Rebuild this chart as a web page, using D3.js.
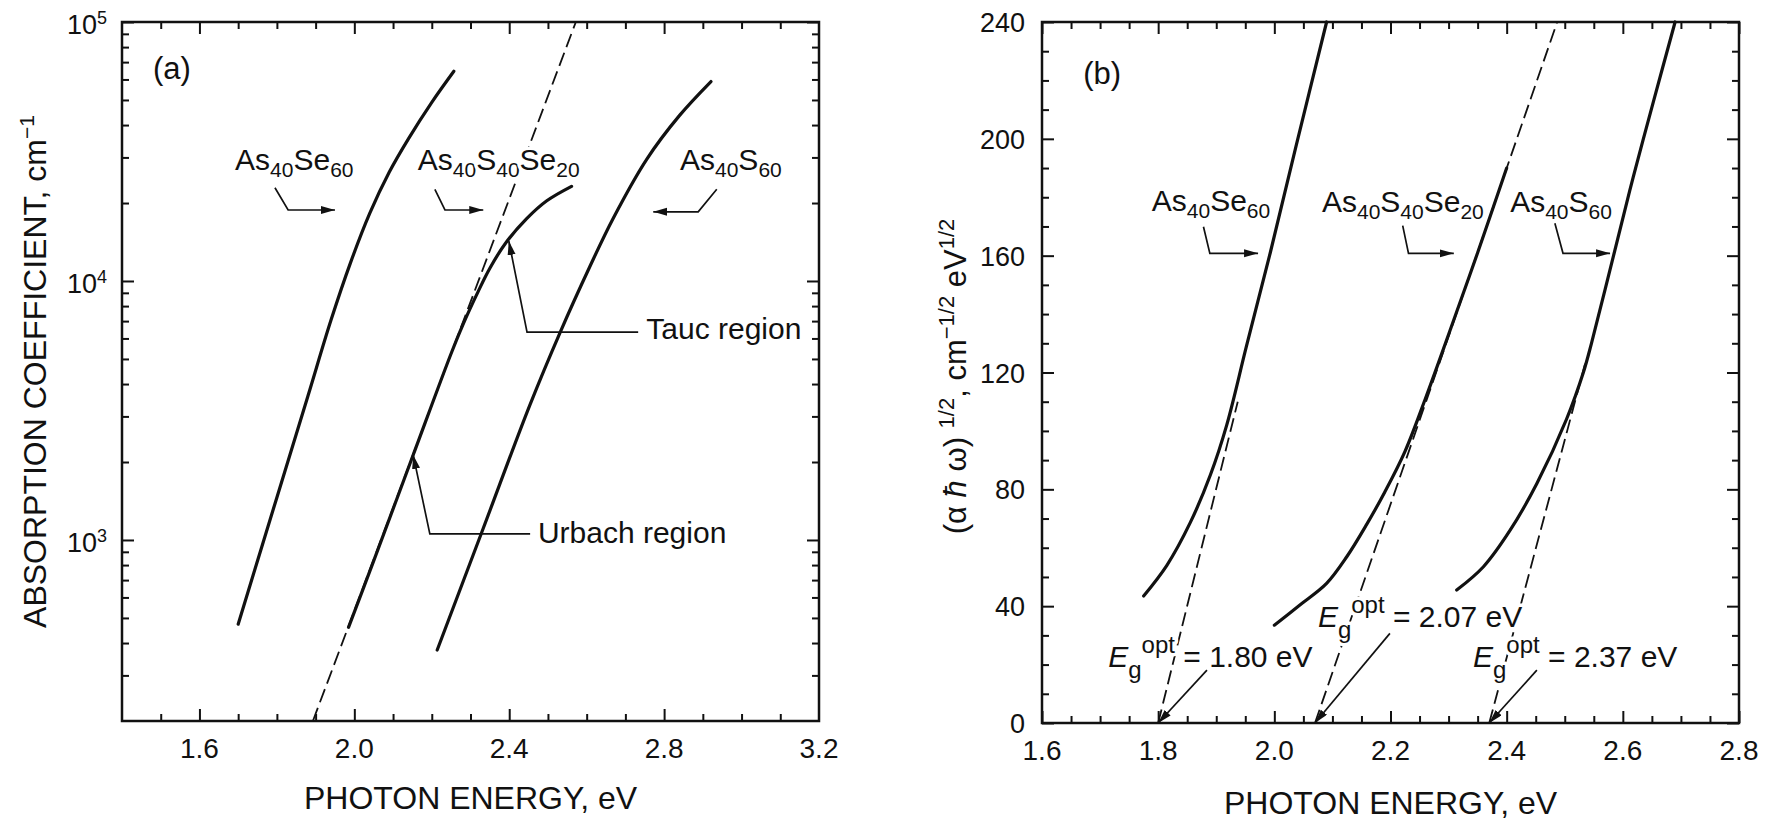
<!DOCTYPE html>
<html>
<head>
<meta charset="utf-8">
<script src="https://cdn.jsdelivr.net/npm/d3@7"></script>
<style>
  body { margin: 0; background: #fff; }
  svg { display: block; font-family: 'Liberation Sans', Arial, Helvetica, sans-serif; }
  text { fill: #111; white-space: pre; }
  .frame { fill: none; stroke: #111; stroke-width: 2.5; }
  .tick line { stroke: #111; stroke-width: 2; }
  .curve { fill: none; stroke: #111; stroke-width: 3.2; stroke-linecap: round; }
  .dash { fill: none; stroke: #111; stroke-width: 1.8; stroke-dasharray: 14 6; }
  .pointer { fill: none; stroke: #111; stroke-width: 1.7; }
  .halo { stroke: #fff; stroke-width: 7; paint-order: stroke; stroke-linejoin: round; }
</style>
</head>
<body>
<svg id="chart"></svg>
<script>
// (a) absorption coefficient (cm^-1) against photon energy (eV)
const aSe60E = [1.70, 1.80, 1.88, 1.94, 1.99, 2.04, 2.09, 2.14, 2.20, 2.257];
const aSe60Alpha = [473, 1460, 3590, 7080, 11750, 18280, 26300, 35480, 48980, 64570];
const aS40Se20E = [1.985, 2.05, 2.15, 2.25, 2.28, 2.32, 2.35, 2.39, 2.445, 2.497, 2.561];
const aS40Se20Alpha = [460, 830, 2090, 5250, 6760, 9120, 11200, 13960, 17400, 20400, 23200];
const aS60E = [2.214, 2.333, 2.453, 2.531, 2.608, 2.668, 2.755, 2.840, 2.921];
const aS60Alpha = [376, 1110, 3310, 6310, 11350, 17400, 29500, 43600, 58900];
// Urbach straight line of the ternary glass, extended (dashed)
const aUrbachE = [1.893, 2.572];
const aUrbachAlpha = [200, 100000];

// (b) Tauc plot, (alpha h omega)^1/2 against photon energy
const bSe60E = [1.775, 1.815, 1.855, 1.89, 1.918, 1.952, 1.993, 2.038, 2.09];
const bSe60Y = [43.5, 54, 68.5, 85, 102, 129, 161, 198, 240];
const bS40Se20E = [2.00, 2.044, 2.09, 2.125, 2.159, 2.19, 2.225, 2.26, 2.30, 2.35, 2.40];
const bS40Se20Y = [33.5, 40.4, 47.8, 57, 68, 79, 93, 111, 133, 161, 190];
const bS60E = [2.314, 2.36, 2.406, 2.452, 2.503, 2.532, 2.546, 2.584, 2.618, 2.653, 2.69];
const bS60Y = [45.5, 53.5, 66, 82, 104, 120, 130, 160, 187, 213, 240];
// optical gaps and where each Tauc fit line stops
const gaps = [1.80, 2.07, 2.37];
const fitTopE = [1.937, 2.487, 2.535];
const fitTopY = [110, 240, 123];

// tick labels
const aTickE = [1.6, 2.0, 2.4, 2.8, 3.2];
const aTickExp = [3, 4, 5];
const bTickE = [1.6, 1.8, 2.0, 2.2, 2.4, 2.6, 2.8];
const bTickY = [0, 40, 80, 120, 160, 200, 240];

const W = 1777, H = 822;
const svg = d3.select('#chart').attr('width', W).attr('height', H);
svg.append('rect').attr('width', W).attr('height', H).attr('fill', '#fff');

const defs = svg.append('defs');
defs.append('marker')
  .attr('id', 'head')
  .attr('markerUnits', 'userSpaceOnUse')
  .attr('markerWidth', 16).attr('markerHeight', 10)
  .attr('refX', 14).attr('refY', 4)
  .attr('orient', 'auto')
  .append('path').attr('d', 'M0,0 L14,4 L0,8 Z').attr('fill', '#111');

const xA = d3.scaleLinear().domain([1.4, 3.2]).range([122, 819]);
const yA = d3.scaleLog().domain([200, 1e5]).range([721, 22]);
const xB = d3.scaleLinear().domain([1.6, 2.8]).range([1042, 1739]);
const yB = d3.scaleLinear().domain([0, 240]).range([723, 22]);

const zip = (xs, ys) => xs.map((v, i) => [v, ys[i]]);

// text with _{sub}, ^{sup} and |italic| pieces
function rich(sel, str, size, small, down, up) {
  const parts = str.split(/(_\{[^}]*\}|\^\{[^}]*\}|\|[^|]*\|)/).filter(s => s !== '');
  let prev = 0;
  parts.forEach(p => {
    let txt = p, dy = 0, fs = size, italic = false;
    if (p.startsWith('_{')) { txt = p.slice(2, -1); dy = down; fs = small; }
    else if (p.startsWith('^{')) { txt = p.slice(2, -1); dy = -up; fs = small; }
    else if (p.startsWith('|')) { txt = p.slice(1, -1); italic = true; }
    sel.append('tspan')
      .attr('dy', dy - prev)
      .style('font-size', fs + 'px')
      .style('font-style', italic ? 'italic' : null)
      .text(txt);
    prev = dy;
  });
  return sel;
}

// frame with inward ticks on all four sides
function frame(x, y, xMajor, xMinor, yMajor, yMinor) {
  const [x0, x1] = x.range();
  const [y0, y1] = y.range();
  const g = svg.append('g');
  const sides = [
    [d3.axisBottom, x, `translate(0,${y0})`, xMajor, xMinor],
    [d3.axisTop, x, `translate(0,${y1})`, xMajor, xMinor],
    [d3.axisLeft, y, `translate(${x0},0)`, yMajor, yMinor],
    [d3.axisRight, y, `translate(${x1},0)`, yMajor, yMinor]
  ];
  sides.forEach(([axis, scale, tr, major, minor]) => {
    [[major, 12], [minor, 7]].forEach(([vals, len]) => {
      g.append('g').attr('transform', tr)
        .call(axis(scale).tickValues(vals).tickSize(-len).tickFormat(''))
        .call(s => s.select('.domain').remove());
    });
  });
  g.append('rect').attr('class', 'frame')
    .attr('x', x0).attr('y', y1).attr('width', x1 - x0).attr('height', y0 - y1);
  return g;
}

// ---------- panel (a) ----------
const aMinorE = d3.range(1.5, 3.2, 0.1).filter(v => Math.abs(Math.round(v * 10) % 4 - 2) !== 2);
const aMinorY = [];
[100, 1000, 10000].forEach(dec => d3.range(2, 10).forEach(m => {
  const v = m * dec;
  if (v > 200 && v < 1e5) aMinorY.push(v);
}));
frame(xA, yA, aTickE.slice(0, -1), aMinorE, aTickExp.map(e => 10 ** e), aMinorY);

svg.append('g').selectAll('text').data(aTickE).join('text')
  .attr('x', d => xA(d)).attr('y', yA.range()[0] + 37)
  .attr('text-anchor', 'middle').style('font-size', '28px')
  .text(d => d.toFixed(1));

svg.append('g').selectAll('text').data(aTickExp).join('text')
  .attr('x', xA.range()[0] - 15).attr('y', d => yA(10 ** d) + 12)
  .attr('text-anchor', 'end')
  .each(function (d) { rich(d3.select(this), '10^{' + d + '}', 27, 18, 0, 10); });

const lineA = d3.line().x(d => xA(d[0])).y(d => yA(d[1])).curve(d3.curveCatmullRom.alpha(0.5));
svg.append('path').attr('class', 'dash').attr('d', lineA(zip(aUrbachE, aUrbachAlpha)));
[[aSe60E, aSe60Alpha], [aS40Se20E, aS40Se20Alpha], [aS60E, aS60Alpha]].forEach(([e, a]) => {
  svg.append('path').attr('class', 'curve').attr('d', lineA(zip(e, a)));
});

svg.append('text')
  .attr('x', d3.mean(xA.range())).attr('y', 809)
  .attr('text-anchor', 'middle').style('font-size', '32px')
  .text('PHOTON ENERGY, eV');

rich(svg.append('text')
  .attr('transform', `translate(46,${d3.mean(yA.range())}) rotate(-90)`)
  .attr('text-anchor', 'middle'), 'ABSORPTION COEFFICIENT, cm^{−1}', 32, 21, 0, 12);

const notesA = [
  { text: '(a)', at: [1.480, 60300], size: 31 },
  { text: 'As_{40}Se_{60}', at: [1.692, 26900] },
  { text: 'As_{40}S_{40}Se_{20}', at: [2.164, 26900], halo: true },
  { text: 'As_{40}S_{60}', at: [2.841, 26900] },
  { text: 'Tauc region', at: [2.754, 5970] },
  { text: 'Urbach region', at: [2.474, 972] }
];
const pointersA = [
  [[1.795, 22900], [1.829, 18800], [1.950, 18800]],
  [[2.208, 22600], [2.234, 18800], [2.333, 18800]],
  [[2.936, 22600], [2.888, 18500], [2.772, 18500]],
  [[2.733, 6350], [2.446, 6350], [2.399, 14260]],
  [[2.454, 1055], [2.195, 1055], [2.152, 2130]]
];

notesA.forEach(n => {
  const t = svg.append('text').attr('x', xA(n.at[0])).attr('y', yA(n.at[1]))
    .attr('class', n.halo ? 'halo' : null);
  rich(t, n.text, n.size || 30, 21, 7, 12);
});
const arrowA = d3.line().x(d => xA(d[0])).y(d => yA(d[1]));
pointersA.forEach(p => {
  svg.append('path').attr('class', 'pointer').attr('d', arrowA(p)).attr('marker-end', 'url(#head)');
});

// ---------- panel (b) ----------
const bMinorE = d3.range(1.65, 2.8, 0.05).filter(v => Math.abs(v * 5 - Math.round(v * 5)) > 0.01);
const bMinorY = d3.range(10, 240, 10).filter(v => v % 40 !== 0);
frame(xB, yB, bTickE, bMinorE, bTickY, bMinorY);

svg.append('g').selectAll('text').data(bTickE).join('text')
  .attr('x', d => xB(d)).attr('y', yB.range()[0] + 37)
  .attr('text-anchor', 'middle').style('font-size', '28px')
  .text(d => d.toFixed(1));

svg.append('g').selectAll('text').data(bTickY).join('text')
  .attr('x', xB.range()[0] - 17).attr('y', d => yB(d) + 10)
  .attr('text-anchor', 'end').style('font-size', '27px')
  .text(d => d);

const lineB = d3.line().x(d => xB(d[0])).y(d => yB(d[1])).curve(d3.curveCatmullRom.alpha(0.5));
gaps.forEach((g, i) => {
  svg.append('path').attr('class', 'dash')
    .attr('d', lineB([[g, 0], [fitTopE[i], fitTopY[i]]]));
});
[[bSe60E, bSe60Y], [bS40Se20E, bS40Se20Y], [bS60E, bS60Y]].forEach(([e, v]) => {
  svg.append('path').attr('class', 'curve').attr('d', lineB(zip(e, v)));
});

svg.append('text')
  .attr('x', d3.mean(xB.range())).attr('y', 814)
  .attr('text-anchor', 'middle').style('font-size', '32px')
  .text('PHOTON ENERGY, eV');

rich(svg.append('text')
  .attr('transform', `translate(966,${d3.mean(yB.range()) + 4}) rotate(-90)`)
  .attr('text-anchor', 'middle'), '(α |ħ| ω) ^{1/2}, cm^{−1/2} eV^{1/2}', 31, 22, 0, 12);

const notesB = [
  { text: '(b)', at: [1.671, 218.8], size: 31 },
  { text: 'As_{40}Se_{60}', at: [1.789, 175.3] },
  { text: 'As_{40}S_{40}Se_{20}', at: [2.082, 174.9] },
  { text: 'As_{40}S_{60}', at: [2.406, 174.9] }
];
const gapNotes = [[1.714, 19.3], [2.075, 33.0], [2.342, 19.2]];
const gapPointerFrom = [[1.884, 18.1], [2.199, 30.7], [2.452, 18.1]];
const pointersB = [
  [[1.878, 169.9], [1.889, 160.8], [1.972, 160.8]],
  [[2.221, 170.3], [2.231, 160.8], [2.309, 160.8]],
  [[2.483, 171.1], [2.497, 160.8], [2.578, 160.8]]
];

notesB.forEach(n => {
  const t = svg.append('text').attr('x', xB(n.at[0])).attr('y', yB(n.at[1]));
  rich(t, n.text, n.size || 30, 21, 7, 12);
});
gaps.forEach((g, i) => {
  const t = svg.append('text').attr('class', 'halo')
    .attr('x', xB(gapNotes[i][0])).attr('y', yB(gapNotes[i][1]));
  rich(t, '|E|_{g}^{opt} = ' + g.toFixed(2) + ' eV', 30, 24, 11, 14);
  pointersB.push([gapPointerFrom[i], [g, 0]]);
});
const arrowB = d3.line().x(d => xB(d[0])).y(d => yB(d[1]));
pointersB.forEach(p => {
  svg.append('path').attr('class', 'pointer').attr('d', arrowB(p)).attr('marker-end', 'url(#head)');
});
</script>
</body>
</html>
